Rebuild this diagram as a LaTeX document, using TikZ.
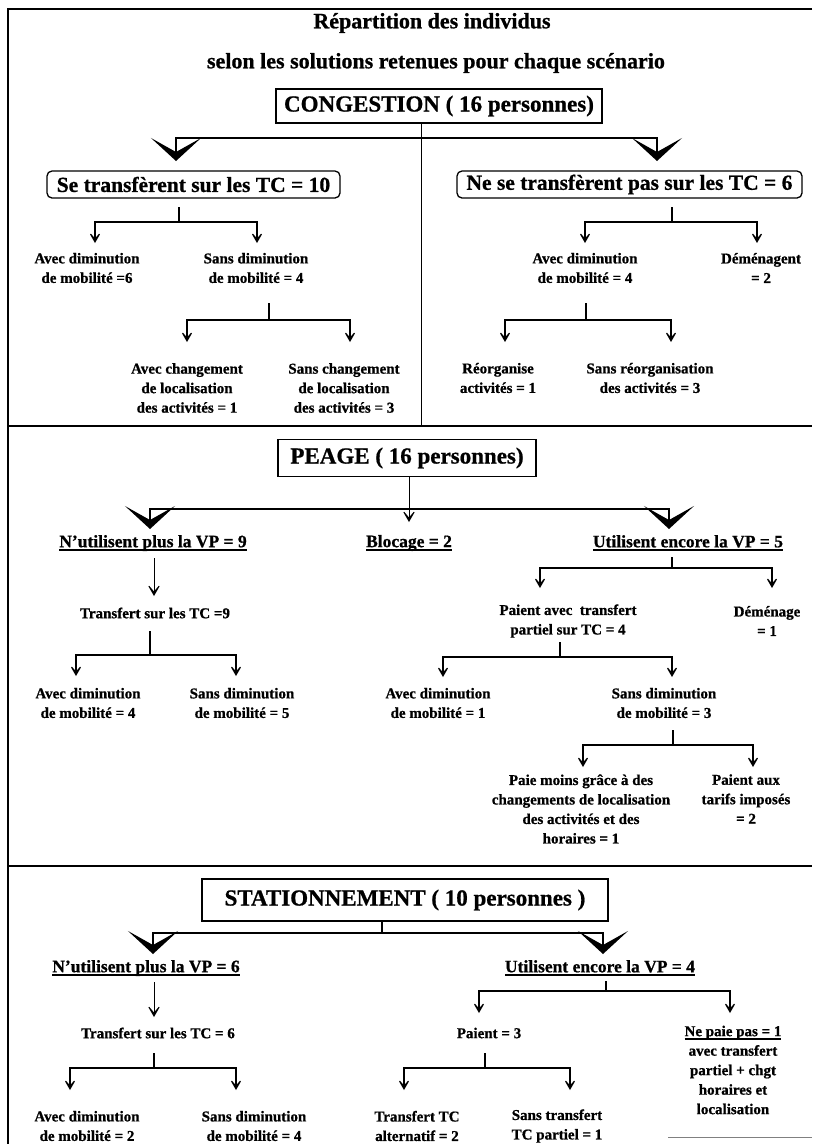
\documentclass[tikz,border=0pt]{standalone}
\usepackage{fontspec}
\setmainfont{Liberation Serif}[BoldFeatures={FakeBold=0.8}]
\usetikzlibrary{arrows.meta}
\newsavebox\ulbox
\newcommand\ulx[1]{\sbox\ulbox{#1}\rlap{\rule[-3.5pt]{\wd\ulbox}{1.4pt}}\usebox\ulbox}
\tikzset{
 lbl/.style={font=\bfseries\fontsize{15}{19.5}\selectfont, align=center, inner sep=0pt},
 ulbl/.style={font=\bfseries\fontsize{17.5}{21}\selectfont, inner sep=0pt},
 scen/.style={draw, line width=1.4pt, font=\bfseries\fontsize{23}{27}\selectfont, inner sep=0pt},
 rbox/.style={draw, line width=1.3pt, rounded corners=5pt, font=\bfseries\fontsize{21.5}{25}\selectfont, inner sep=0pt},
 titletxt/.style={font=\bfseries\fontsize{22}{26}\selectfont, inner sep=0pt},
 conn/.style={line width=1.5pt},
 thinc/.style={line width=0.9pt},
 frameline/.style={line width=2.2pt},
 BigV/.tip={Stealth[length=23pt,width=50pt,inset=14pt]},
 SmV/.tip={Stealth[length=14pt,width=16pt,inset=9.5pt]},
}
\begin{document}
\begin{tikzpicture}[x=1pt,y=-1pt]
\useasboundingbox (0,0) rectangle (812,1144);
\fill[white] (0,0) rectangle (812,1144);
% frame and separators
\draw[frameline] (812,9) -- (8,9) -- (8,1144);
\draw[frameline] (8,426) -- (812,426);
\draw[frameline] (8,866) -- (812,866);
\draw[line width=0.6pt, gray] (668,1137) -- (812,1137);

% title
\node[titletxt] (t1) at (432,23) {Répartition des individus};
\node[titletxt] (t2) at (436,63) {selon les solutions retenues pour chaque scénario};

% ===== CONGESTION =====
\node[scen, minimum width=326pt, minimum height=34pt] (cong) at (439,106) {CONGESTION ( 16 personnes)};
\coordinate (cj) at (421,138);
\coordinate (csep) at (421,426);
\coordinate (ca1) at (176,161);
\coordinate (ca2) at (657,161);
\draw[thinc] (cong.south -| cj) -- (csep);
\draw[conn,-BigV] (cj) -| (ca1);
\draw[conn,-BigV] (cj) -| (ca2);
\node[rbox, minimum width=293pt, minimum height=27pt] (se) at (193.5,184.5) {Se transfèrent sur les TC = 10};
\node[rbox, minimum width=345pt, minimum height=27pt] (ne) at (629.5,184.5) {Ne se transfèrent pas sur les TC = 6};

% left fork
\coordinate (s1) at (179,207); \coordinate (j1) at (179,222);
\coordinate (a11) at (95,243); \coordinate (a12) at (257,243);
\draw[conn] (s1) -- (j1);
\draw[conn,-SmV] (j1) -| (a11);
\draw[conn,-SmV] (j1) -| (a12);
\node[lbl] (c1) at (87,268) {Avec diminution\\de mobilité =6};
\node[lbl] (c2) at (256,268) {Sans diminution\\de mobilité = 4};
% left sub fork
\coordinate (s2) at (269,303); \coordinate (j2) at (269,320);
\coordinate (a21) at (187,342); \coordinate (a22) at (350,342);
\draw[conn] (s2) -- (j2);
\draw[conn,-SmV] (j2) -| (a21);
\draw[conn,-SmV] (j2) -| (a22);
\node[lbl] (c3) at (187,388) {Avec changement\\de localisation\\des activités = 1};
\node[lbl] (c4) at (344,388) {Sans changement\\de localisation\\des activités = 3};
% right fork
\coordinate (s3) at (672,207); \coordinate (j3) at (672,222);
\coordinate (a31) at (585,243); \coordinate (a32) at (757,243);
\draw[conn] (s3) -- (j3);
\draw[conn,-SmV] (j3) -| (a31);
\draw[conn,-SmV] (j3) -| (a32);
\node[lbl] (c5) at (585,268) {Avec diminution\\de mobilité = 4};
\node[lbl] (c6) at (761,268) {Déménagent\\= 2};
% right sub fork
\coordinate (s4) at (586,303); \coordinate (j4) at (586,320);
\coordinate (a41) at (505,342); \coordinate (a42) at (671,342);
\draw[conn] (s4) -- (j4);
\draw[conn,-SmV] (j4) -| (a41);
\draw[conn,-SmV] (j4) -| (a42);
\node[lbl] (c7) at (498,378) {Réorganise\\activités = 1};
\node[lbl] (c8) at (650,378) {Sans réorganisation\\des activités = 3};

% ===== PEAGE =====
\node[scen, minimum width=258pt, minimum height=37pt] (peage) at (407,458) {PEAGE ( 16 personnes)};
\coordinate (pj) at (409,509);
\coordinate (pb) at (409,522);
\coordinate (pa1) at (150,529);
\coordinate (pa3) at (669,529);
\draw[thinc,-SmV] (peage.south -| pj) -- (pb);
\draw[conn,-BigV] (pj) -| (pa1);
\draw[conn,-BigV] (pj) -| (pa3);
\node[ulbl] (p1) at (153,543) {\ulx{N'utilisent plus la VP = 9}};
\node[ulbl] (p2) at (409,543) {\ulx{Blocage = 2}};
\node[ulbl] (p3) at (688,543) {\ulx{Utilisent encore la VP = 5}};
\coordinate (ps1) at (154,558); \coordinate (pt1) at (154,596);
\draw[thinc,-SmV] (ps1) -- (pt1);
\node[lbl] (p4) at (155,613) {Transfert sur les TC =9};
% right fork
\coordinate (s5) at (672,557); \coordinate (j5) at (672,568);
\coordinate (a51) at (540,588); \coordinate (a52) at (772,588);
\draw[conn] (s5) -- (j5);
\draw[conn,-SmV] (j5) -| (a51);
\draw[conn,-SmV] (j5) -| (a52);
\node[lbl] (p5) at (568,621) {Paient avec\ \ transfert\\partiel sur TC = 4};
\node[lbl] (p6) at (767,621) {Déménage\\= 1};
% left fork
\coordinate (s6) at (150,631); \coordinate (j6) at (150,655);
\coordinate (a61) at (76,676); \coordinate (a62) at (236,676);
\draw[conn] (s6) -- (j6);
\draw[conn,-SmV] (j6) -| (a61);
\draw[conn,-SmV] (j6) -| (a62);
\node[lbl] (p7) at (88,703) {Avec diminution\\de mobilité = 4};
\node[lbl] (p8) at (242,703) {Sans diminution\\de mobilité = 5};
% right sub fork
\coordinate (s7) at (560,642); \coordinate (j7) at (560,657);
\coordinate (a71) at (443,677); \coordinate (a72) at (672,677);
\draw[conn] (s7) -- (j7);
\draw[conn,-SmV] (j7) -| (a71);
\draw[conn,-SmV] (j7) -| (a72);
\node[lbl] (p9) at (438,703) {Avec diminution\\de mobilité = 1};
\node[lbl] (p10) at (664,703) {Sans diminution\\de mobilité = 3};
% sub sub fork
\coordinate (s8) at (673,730); \coordinate (j8) at (673,745);
\coordinate (a81) at (583,767); \coordinate (a82) at (753,767);
\draw[conn] (s8) -- (j8);
\draw[conn,-SmV] (j8) -| (a81);
\draw[conn,-SmV] (j8) -| (a82);
\node[lbl] (p11) at (581,809) {Paie moins grâce à des\\changements de localisation\\des activités et des\\horaires = 1};
\node[lbl] (p12) at (746,799) {Paient aux\\tarifs imposés\\= 2};

% ===== STATIONNEMENT =====
\node[scen, minimum width=406pt, minimum height=42pt] (stat) at (405,900) {STATIONNEMENT ( 10 personnes )};
\coordinate (sj) at (382,933);
\coordinate (sa1) at (153,954);
\coordinate (sa2) at (603,954);
\draw[conn] (stat.south -| sj) -- (sj);
\draw[conn,-BigV] (sj) -| (sa1);
\draw[conn,-BigV] (sj) -| (sa2);
\node[ulbl] (q1) at (146,968) {\ulx{N'utilisent plus la VP = 6}};
\node[ulbl] (q2) at (600,968) {\ulx{Utilisent encore la VP = 4}};
\coordinate (qs1) at (154,982); \coordinate (qt1) at (154,1017);
\draw[thinc,-SmV] (qs1) -- (qt1);
\node[lbl] (q3) at (158,1033) {Transfert sur les TC = 6};
% right fork
\coordinate (s9) at (606,981); \coordinate (j9) at (606,991);
\coordinate (a91) at (479,1013); \coordinate (a92) at (730,1013);
\draw[conn] (s9) -- (j9);
\draw[conn,-SmV] (j9) -| (a91);
\draw[conn,-SmV] (j9) -| (a92);
\node[lbl] (q4) at (489,1033) {Paient = 3};
\node[lbl] (q5) at (733,1070) {\ulx{Ne paie pas = 1}\\avec transfert\\partiel + chgt\\horaires et\\localisation};
% left fork
\coordinate (s10) at (154,1053); \coordinate (j10) at (154,1068);
\coordinate (a101) at (70,1090); \coordinate (a102) at (236,1090);
\draw[conn] (s10) -- (j10);
\draw[conn,-SmV] (j10) -| (a101);
\draw[conn,-SmV] (j10) -| (a102);
\node[lbl] (q6) at (87,1126) {Avec diminution\\de mobilité = 2};
\node[lbl] (q7) at (254,1126) {Sans diminution\\de mobilité = 4};
% right sub fork
\coordinate (s11) at (485,1053); \coordinate (j11) at (485,1068);
\coordinate (a111) at (404,1090); \coordinate (a112) at (570,1090);
\draw[conn] (s11) -- (j11);
\draw[conn,-SmV] (j11) -| (a111);
\draw[conn,-SmV] (j11) -| (a112);
\node[lbl] (q8) at (417,1126) {Transfert TC\\alternatif = 2};
\node[lbl] (q9) at (557,1126) {Sans transfert\\TC partiel = 1};
\end{tikzpicture}
\end{document}
